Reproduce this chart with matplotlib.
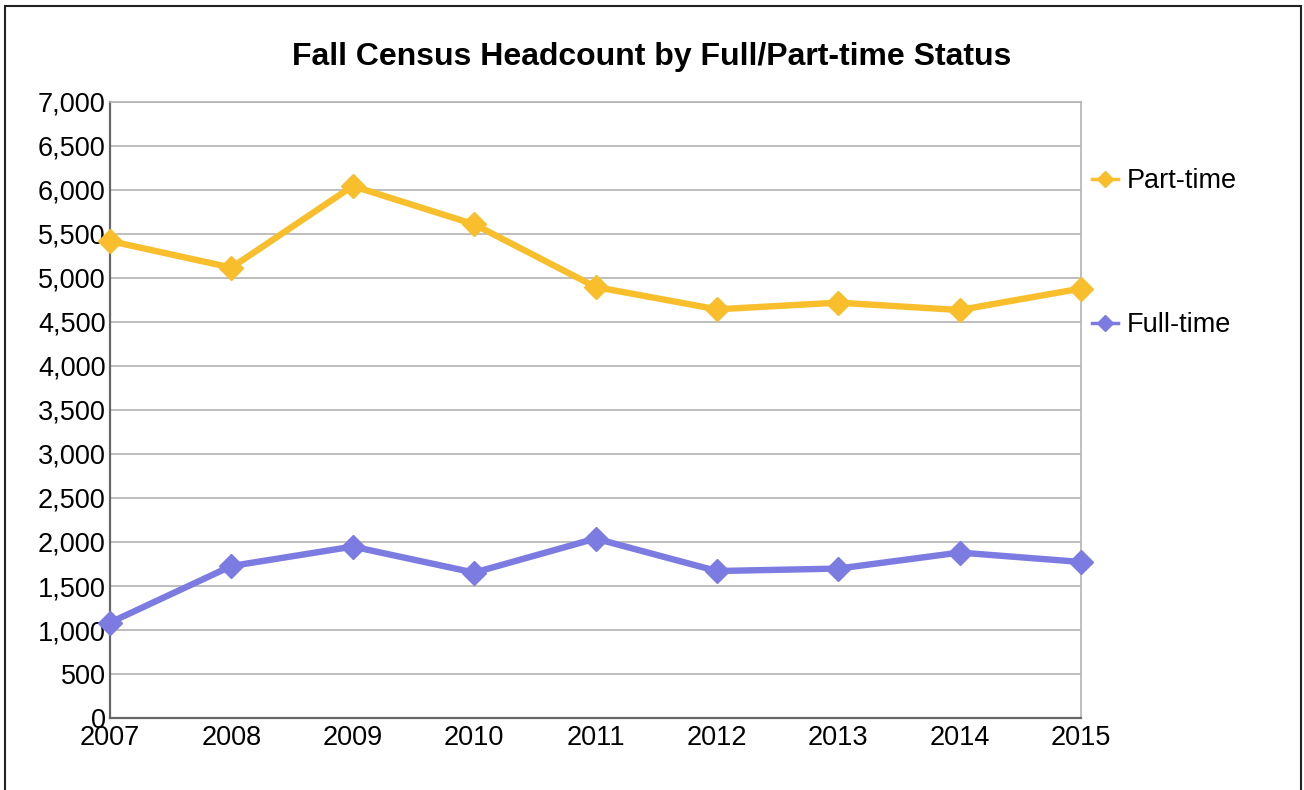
import matplotlib
matplotlib.use("Agg")
import matplotlib.pyplot as plt
from matplotlib.patches import Rectangle
from matplotlib.lines import Line2D
from matplotlib.ticker import FuncFormatter, MultipleLocator

plt.rcParams['font.family'] = ['Liberation Sans', 'DejaVu Sans']

years = [2007, 2008, 2009, 2010, 2011, 2012, 2013, 2014, 2015]
part_time = [5420, 5118, 6045, 5610, 4898, 4644, 4720, 4636, 4880]
full_time = [1084, 1727, 1948, 1652, 2039, 1670, 1698, 1880, 1773]
title = "Fall Census Headcount by Full/Part-time Status"
series_names = ["Part-time", "Full-time"]

pt_color = "#F8BE2C"
ft_color = "#7B7BE2"

W, H = 1304, 790
fig = plt.figure(figsize=(W / 100, H / 100), dpi=100)
fig.patch.set_facecolor("white")

# figure border (bottom edge lies outside the picture, as in the reference)
fig.add_artist(Rectangle((5 / W, -0.02), (1301 - 5) / W, (H - 6) / H + 0.02,
                         transform=fig.transFigure, fill=False,
                         edgecolor="#222222", linewidth=1.5, clip_on=False))

left, right, top, bottom = 110, 1081, 102, 718
ax = fig.add_axes([left / W, 1 - bottom / H, (right - left) / W, (bottom - top) / H])

ax.plot(years, part_time, color=pt_color, lw=4.6, marker="D", ms=12,
        solid_joinstyle="miter", zorder=3, clip_on=False)
ax.plot(years, full_time, color=ft_color, lw=4.6, marker="D", ms=12,
        solid_joinstyle="miter", zorder=3, clip_on=False)

ax.set_xlim(years[0], years[-1])
ax.set_ylim(0, 7000)
ax.set_xticks(years)
ax.yaxis.set_major_locator(MultipleLocator(500))
ax.yaxis.set_major_formatter(FuncFormatter(lambda v, p: f"{int(v):,}"))
ax.grid(axis="y", color="#b3b3b3", linewidth=1.2, zorder=0)
ax.set_axisbelow(True)

for s in ["left", "bottom"]:
    ax.spines[s].set_color("#666666")
    ax.spines[s].set_linewidth(1.6)
ax.spines["top"].set_color("#b3b3b3")
ax.spines["top"].set_linewidth(1.2)
ax.spines["right"].set_color("#b3b3b3")
ax.spines["right"].set_linewidth(1.2)

ax.tick_params(axis="both", length=0, labelsize=19.5, colors="black")
ax.tick_params(axis="y", pad=3)
ax.tick_params(axis="x", pad=5)

fig.text(0.5, 1 - 57 / H, title, ha="center", va="center",
         fontsize=23, fontweight="bold")

# legend
for name, color, y in [(series_names[0], pt_color, 179), (series_names[1], ft_color, 323)]:
    yf = 1 - y / H
    fig.add_artist(Line2D([1092 / W, 1118 / W], [yf, yf], transform=fig.transFigure,
                          color=color, lw=2.5))
    fig.add_artist(Line2D([1105 / W], [yf], transform=fig.transFigure,
                          color=color, marker="D", ms=8, lw=0))
    fig.text(1127 / W, yf - 2 / H, name, ha="left", va="center", fontsize=19.5)

fig.savefig("out.png", dpi=100)
